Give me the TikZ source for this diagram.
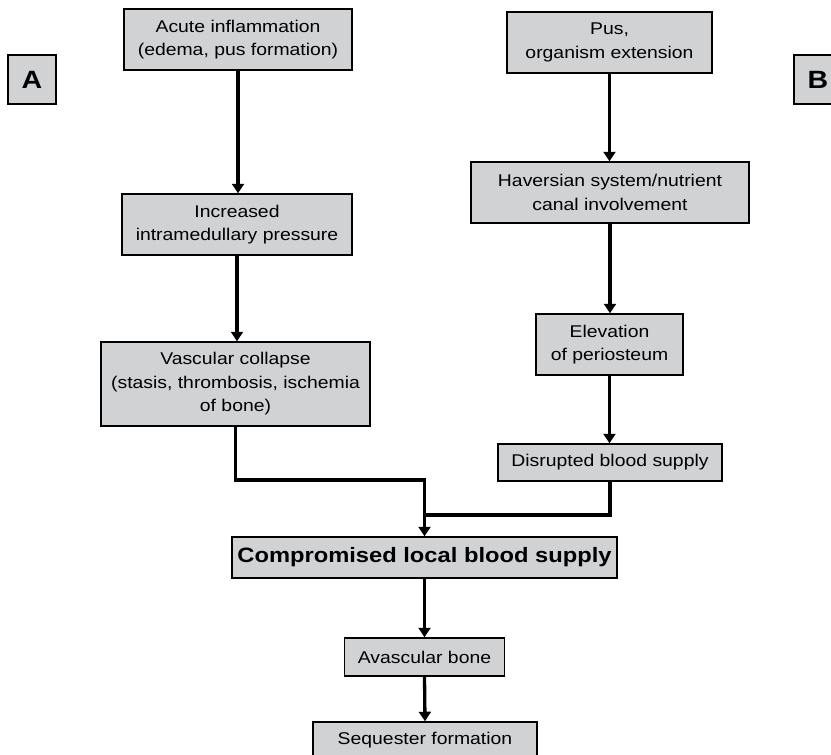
\documentclass[tikz,border=0pt]{standalone}
\usepackage{fontspec}
\setmainfont{Liberation Sans}[FakeStretch=1.14]
\usetikzlibrary{arrows.meta}
\definecolor{boxfill}{RGB}{209,210,212}
\begin{document}
\begin{tikzpicture}[x=1pt,y=-1pt,
  box/.style={draw=black, line width=1.5pt, fill=boxfill, inner sep=0pt, align=center,
    font=\fontsize{17}{23.5}\selectfont},
  tag/.style={box, font=\fontsize{25}{28}\selectfont\bfseries, minimum width=48pt, minimum height=49pt},
  ln/.style={line width=3.3pt, draw=black},
  arr/.style={ln, -{Triangle[width=12pt,length=9.5pt]}}
]
\useasboundingbox (0,0) rectangle (831,755);
\clip (0,0) rectangle (831,755);
\fill[white] (0,0) rectangle (831,755);

\node[tag] (A) at (32,79.5) {A};
\node[tag] (B) at (818,79.5) {B};

\node[box, minimum width=228pt, minimum height=61pt] (acute) at (238,39.5) {Acute inflammation\\(edema, pus formation)};
\node[box, minimum width=230pt, minimum height=61pt] (incr) at (237,224.5) {Increased\\intramedullary pressure};
\node[box, minimum width=269pt, minimum height=84pt] (vasc) at (235.5,384) {Vascular collapse\\(stasis, thrombosis, ischemia\\of bone)};

\node[box, minimum width=205pt, minimum height=61pt] (pus) at (609.5,42.5) {Pus,\\organism extension};
\node[box, minimum width=278pt, minimum height=61pt] (hav) at (610,192.5) {Haversian system/nutrient\\canal involvement};
\node[box, minimum width=147pt, minimum height=61pt] (elev) at (609.5,344.5) {Elevation\\of periosteum};
\node[box, minimum width=224pt, minimum height=37pt] (disr) at (610,462.5) {Disrupted blood supply};

\node[box, minimum width=385pt, minimum height=41pt, font=\fontsize{20.8}{24}\selectfont\bfseries] (comp) at (424.5,557.5) {Compromised local blood supply};
\node[box, minimum width=160pt, minimum height=38pt] (avas) at (424.5,657) {Avascular bone};
\node[box, minimum width=224pt, minimum height=36pt] (seq) at (425,740) {Sequester formation};

\draw[arr] (acute.south) -- (acute.south |- incr.north);
\draw[arr] (incr.south) -- (incr.south |- vasc.north);
\draw[arr] (pus.south) -- (pus.south |- hav.north);
\draw[arr] (hav.south) -- (hav.south |- elev.north);
\draw[arr] (elev.south) -- (elev.south |- disr.north);

\coordinate (jA) at (424.5,480);
\coordinate (jB) at (424.5,515);
\draw[arr] (vasc.south) |- (jA) -- (comp.north);
\draw[ln] (disr.south) |- (jB);

\draw[arr] (comp.south) -- (avas.north);
\draw[arr] (avas.south) -- (seq.north);
\end{tikzpicture}
\end{document}
